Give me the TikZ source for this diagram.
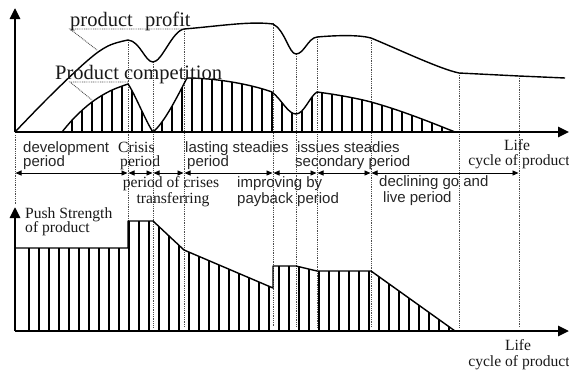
\documentclass[tikz,border=0pt]{standalone}
\usepackage{fontspec}
\setmainfont{Liberation Serif}
\setsansfont{Liberation Sans}
\usetikzlibrary{arrows.meta}
\begin{document}
\begin{tikzpicture}[x=1pt,y=-1pt,
  axis/.style={line width=2.6pt, -{Triangle[width=10pt,length=11pt]}},
  curve/.style={line width=1.4pt, line join=round},
  hatch/.style={line width=1.1pt},
  dots/.style={line width=0.9pt, black!70, dash pattern=on 0.9pt off 0.9pt},
  span/.style={line width=0.9pt, {Triangle[width=5pt,length=6pt]}-{Triangle[width=5pt,length=6pt]}},
  sf/.style={font=\sffamily\fontsize{15}{15}\selectfont, inner sep=0pt, text=black!85},
  rm/.style={font=\fontsize{15.6}{15.6}\selectfont, inner sep=0pt, text=black!90},
  big/.style={font=\fontsize{20.5}{20.5}\selectfont, inner sep=0pt, text=black!90},
]
\useasboundingbox (0,0) rectangle (569,370);

% ---------- coordinates ----------
\coordinate (O1) at (15,132);
\coordinate (Y1) at (15,8);
\coordinate (X1) at (569,132);
\coordinate (O2) at (15,331);
\coordinate (Y2) at (15,207);
\coordinate (X2) at (569,331);

% ---------- dotted verticals ----------
\foreach \x/\y in {128/40,153/62,184/29,273/23,296/54,317/37,371/38,459/73,519/76}
  \draw[dots] (\x,\y) -- (\x,327);
\draw[dots] (15,135) -- (15,205);

% ---------- top hatch under competition curve ----------
\begin{scope}
  \clip (62,132) -- plot[smooth,tension=0.6] coordinates {(62,132) (75,117) (92,102) (110,91) (128,84)}
    .. controls (134,92) and (146,122) .. (153,132)
    .. controls (165,122) and (178,95) .. (187,78)
    .. controls (215,78) and (250,84) .. (272,92)
    .. controls (282,100) and (288,114) .. (296,114)
    .. controls (304,114) and (310,96) .. (317,92)
    .. controls (340,95) and (360,99) .. (371,102)
    .. controls (400,110) and (430,122) .. (455,132) -- cycle;
  \foreach \x in {72,82,...,452} \draw[hatch] (\x,133) -- (\x,70);
\end{scope}

% ---------- competition curve ----------
\draw[curve] plot[smooth,tension=0.6] coordinates {(62,132) (75,117) (92,102) (110,91) (128,84)}
    .. controls (134,92) and (146,122) .. (153,132)
    .. controls (165,122) and (178,95) .. (187,78)
    .. controls (215,78) and (250,84) .. (272,92)
    .. controls (282,100) and (288,114) .. (296,114)
    .. controls (304,114) and (310,96) .. (317,92)
    .. controls (340,95) and (360,99) .. (371,102)
    .. controls (400,110) and (430,122) .. (455,132);

% ---------- profit curve ----------
\draw[curve] plot[smooth,tension=0.6] coordinates {(15,132) (50,96) (87,61) (108,46) (128,40)}
    .. controls (140,41) and (145,62) .. (153,62)
    .. controls (162,62) and (172,31) .. (184,29)
    .. controls (220,26) and (250,21) .. (273,24)
    .. controls (285,30) and (289,54) .. (296,54)
    .. controls (304,54) and (308,38) .. (317,37)
    .. controls (340,35) and (360,35) .. (371,38)
    .. controls (400,50) and (440,69) .. (459,73)
    -- (519,76) -- (565,78);

% ---------- leaders ----------
\draw[dots] (184,29) -- (70,29) -- (97,50);
\draw[dots] (128,82) -- (70,82) -- (92,100);

% ---------- top axes ----------
\draw[axis] (O1) -- (Y1);
\draw[axis] (O1) -- (X1);

% ---------- bottom push strength ----------
\begin{scope}
  \clip (15,331) -- (15,248) -- (128,248) -- (128,221) -- (153,221) -- (184,250) -- (273,288)
    -- (273,266) -- (296,266) -- (317,271) -- (371,271) -- (455,331) -- cycle;
  \foreach \x in {29,39,...,449} \draw[hatch] (\x,332) -- (\x,215);
\end{scope}
\draw[curve] (15,248) -- (128,248) -- (128,221) -- (153,221) -- (184,250) -- (273,288)
    -- (273,266) -- (296,266) -- (317,271) -- (371,271) -- (455,331);
\draw[axis] (O2) -- (Y2);
\draw[axis] (O2) -- (X2);

% ---------- span arrows ----------
\foreach \a/\b in {15/128,128/153,153/184,184/273,273/317,317/371,371/519}
  \draw[span] (\a+0.5,173) -- (\b-0.5,173);

% ---------- labels ----------
\node[big, anchor=base west] (pp) at (70,26) {product\hspace{0.6em}profit};
\node[big, anchor=base west] (pc) at (55,79) {Product competition};

\node[sf, anchor=base west] (dev1) at (23,152) {development};
\node[sf, anchor=base west] (dev2) at (23,166) {period};
\node[rm, anchor=base west] (cr1) at (118,152) {Crisis};
\node[rm, anchor=base west] (cr2) at (120,166) {period};
\node[sf, anchor=base west] (ls1) at (185,152) {lasting steadies};
\node[sf, anchor=base west] (ls2) at (187,166) {period};
\node[sf, anchor=base west] (is1) at (297,152) {issues steadies};
\node[sf, anchor=base west] (is2) at (295,166) {secondary period};
\node[rm, anchor=base] (lf1) at (517,150) {Life};
\node[rm, anchor=base] (lf2) at (519,165) {cycle of product};

\node[rm, anchor=base] (pt1) at (171,187) {period of crises};
\node[rm, anchor=base] (pt2) at (173,203) {transferring};
\node[sf, anchor=base west] (ip1) at (237,187) {improving by};
\node[sf, anchor=base west] (ip2) at (237,203) {payback period};
\node[sf, anchor=base west] (dg1) at (379,186) {declining go and};
\node[sf, anchor=base west] (dg2) at (383,202) {live period};

\node[rm, anchor=base west] (ps1) at (25,218) {Push Strength};
\node[rm, anchor=base west] (ps2) at (25,232) {of product};

\node[rm, anchor=base] (lb1) at (518,350) {Life};
\node[rm, anchor=base] (lb2) at (519,366) {cycle of product};
\end{tikzpicture}
\end{document}
